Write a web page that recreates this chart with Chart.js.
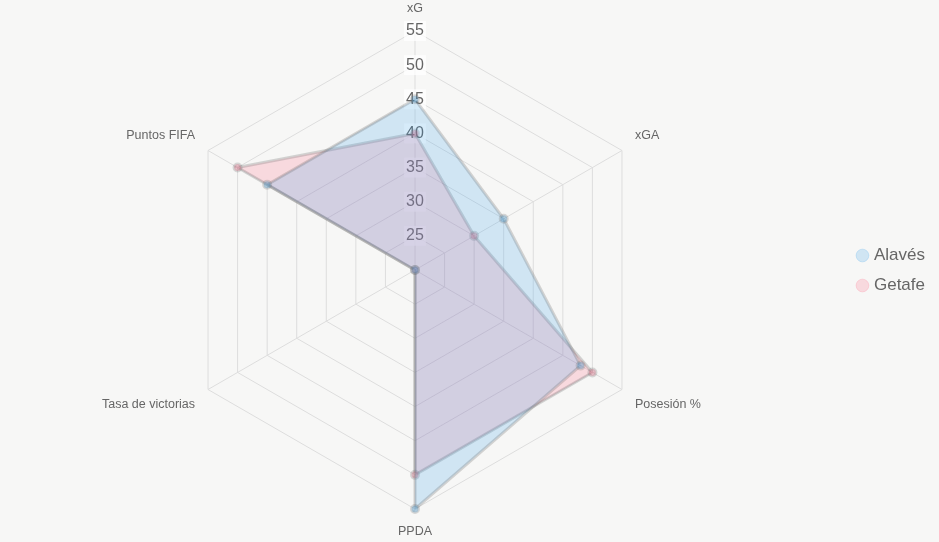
<!DOCTYPE html>
<html>
<head>
<meta charset="utf-8">
<script src="https://cdn.jsdelivr.net/npm/chart.js@4"></script>
<style>
  html, body { margin: 0; padding: 0; background: #f7f7f6; overflow: hidden; }
  #wrap { width: 955px; height: 542px; margin-left: -16px; }
</style>
</head>
<body>
<div id="wrap"><canvas id="radar"></canvas></div>
<script>
// datos
const categorias = ["xG", "xGA", "Posesión %", "PPDA", "Tasa de victorias", "Puntos FIFA"];
const alaves = [45, 35, 48, 55, 20, 45];
const getafe = [40, 30, 50, 50, 20, 50];

const colores = {
  alaves: "rgba(54, 162, 235, 0.2)",
  getafe: "rgba(255, 99, 132, 0.2)"
};

new Chart(document.getElementById("radar"), {
  type: "radar",
  data: {
    labels: categorias,
    datasets: [
      {
        label: "Alavés",
        data: alaves,
        backgroundColor: colores.alaves,
        borderColor: "rgba(110, 110, 110, 0.28)",
        borderWidth: 3,
        pointBackgroundColor: "rgba(54, 162, 235, 0.3)",
        pointBorderColor: "rgba(110, 110, 110, 0.25)",
        pointRadius: 3.5
      },
      {
        label: "Getafe",
        data: getafe,
        backgroundColor: colores.getafe,
        borderColor: "rgba(110, 110, 110, 0.28)",
        borderWidth: 3,
        pointBackgroundColor: "rgba(255, 99, 132, 0.3)",
        pointBorderColor: "rgba(110, 110, 110, 0.25)",
        pointRadius: 3.5
      }
    ]
  },
  options: {
    responsive: true,
    maintainAspectRatio: false,
    animation: false,
    layout: { padding: { top: 1, bottom: 2, left: 0, right: 4 } },
    plugins: {
      legend: {
        position: "right",
        labels: {
          usePointStyle: true,
          pointStyle: "circle",
          boxWidth: 6,
          boxHeight: 9,
          padding: 13,
          font: { size: 17 },
          color: "#666",
          generateLabels(chart) {
            return chart.data.datasets.map((ds, i) => ({
              text: ds.label,
              fillStyle: ds.backgroundColor,
              strokeStyle: ds.backgroundColor,
              lineWidth: 1,
              pointStyle: "circle",
              fontColor: "#666",
              hidden: !chart.isDatasetVisible(i),
              datasetIndex: i
            }));
          }
        }
      }
    },
    scales: {
      r: {
        min: 20,
        max: 55,
        ticks: {
          stepSize: 5,
          font: { size: 16 },
          color: "#666",
          backdropColor: "rgba(255,255,255,0.75)"
        },
        grid: { color: "#dddddd" },
        angleLines: { color: "#dddddd" },
        pointLabels: { font: { size: 12.5 }, color: "#666" }
      }
    }
  }
});
</script>
</body>
</html>
